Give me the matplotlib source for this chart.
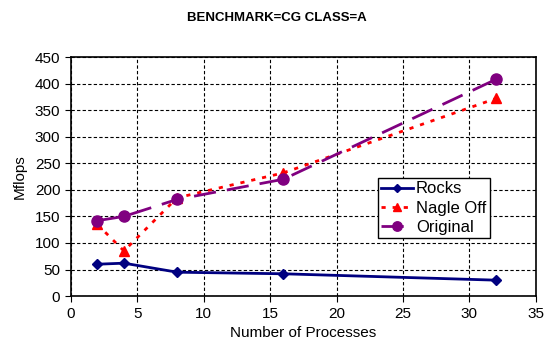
import matplotlib
matplotlib.use("Agg")
import matplotlib.pyplot as plt

plt.rcParams['font.family'] = ['Liberation Sans', 'DejaVu Sans']

procs = [2, 4, 8, 16, 32]
rocks = [60, 62, 45, 42, 30]
nagle_off = [135, 85, 185, 232, 372]
original = [142, 150, 182, 220, 408]

fig = plt.figure(figsize=(5.53, 3.5), dpi=100)
ax = fig.add_axes([0.128, 0.154, 0.841, 0.683])

ax.plot(procs, rocks, color='#000080', lw=2, marker='D', ms=5, label='Rocks')
ax.plot(procs, nagle_off, color='#ff0000', lw=2, ls=(0, (1.5, 2.5)), marker='^',
        ms=7, label='Nagle Off')
ax.plot(procs, original, color='#800080', lw=2, ls=(0, (8, 4)), marker='o',
        ms=8, label='Original')

ax.set_xlim(0, 35)
ax.set_ylim(0, 450)
ax.set_xticks(range(0, 36, 5))
ax.set_yticks(range(0, 451, 50))
ax.grid(True, color='black', ls=(0, (3, 2)), lw=0.8)
ax.tick_params(labelsize=11, length=4, direction='out')
for s in ax.spines.values():
    s.set_linewidth(1.2)

ax.set_xlabel('Number of Processes', fontsize=11)
ax.set_ylabel('Mflops', fontsize=11, labelpad=6)
fig.suptitle('BENCHMARK=CG CLASS=A', fontsize=9.5, fontweight='bold', y=0.965)

leg = ax.legend(loc='upper left', bbox_to_anchor=(0.66, 0.494), fontsize=12,
                fancybox=False, framealpha=1, edgecolor='black',
                handlelength=1.9, borderpad=0.2, labelspacing=0.25,
                handletextpad=0.2, borderaxespad=0, markerscale=0.85)
leg.get_frame().set_linewidth(1)

plt.savefig('out.png', dpi=100)
